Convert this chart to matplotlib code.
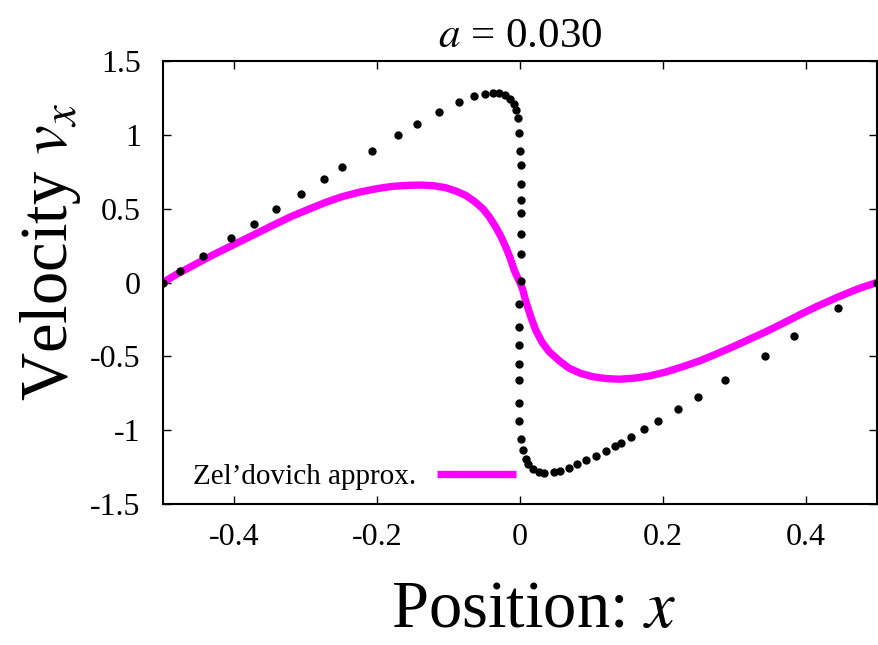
import matplotlib
matplotlib.use("Agg")
import matplotlib.pyplot as plt

# particle positions / velocities (exact solution, dots)
dots_x = [-0.500, -0.476, -0.444, -0.405, -0.373, -0.341, -0.307, -0.275, -0.249, -0.207,
          -0.171, -0.144, -0.114, -0.085, -0.064, -0.049, -0.038, -0.029, -0.021, -0.014,
          -0.009, -0.006, -0.003, -0.001, 0.000, 0.001, 0.001, 0.001, 0.001, 0.001,
          0.001, 0.001, -0.001, -0.001, -0.001, -0.001, -0.001, -0.001, -0.001, 0.001,
          0.004, 0.008, 0.011, 0.018, 0.026, 0.034, 0.047, 0.056, 0.069, 0.080,
          0.093, 0.107, 0.121, 0.133, 0.141, 0.155, 0.174, 0.193, 0.221, 0.249,
          0.287, 0.343, 0.384, 0.446, 0.500]
dots_v = [0.000, 0.081, 0.178, 0.299, 0.396, 0.495, 0.597, 0.700, 0.779, 0.892,
          1.000, 1.074, 1.153, 1.220, 1.261, 1.277, 1.284, 1.281, 1.268, 1.243,
          1.211, 1.166, 1.115, 1.011, 0.889, 0.793, 0.664, 0.561, 0.473, 0.331,
          0.193, 0.007, -0.147, -0.304, -0.424, -0.550, -0.658, -0.816, -0.939, -1.057,
          -1.133, -1.196, -1.228, -1.264, -1.284, -1.291, -1.286, -1.277, -1.255, -1.232,
          -1.205, -1.174, -1.140, -1.106, -1.084, -1.043, -0.989, -0.935, -0.856, -0.777,
          -0.660, -0.496, -0.363, -0.176, 0.000]

# Zel'dovich approximation curve
zel_x = [-0.500, -0.480, -0.459, -0.436, -0.412, -0.388, -0.365, -0.342, -0.319, -0.295,
         -0.272, -0.250, -0.225, -0.200, -0.179, -0.157, -0.137, -0.120, -0.104, -0.090,
         -0.076, -0.064, -0.052, -0.043, -0.034, -0.027, -0.020, -0.014, -0.008, -0.004,
         0.000, 0.004, 0.008, 0.015, 0.022, 0.031, 0.041, 0.055, 0.069, 0.085,
         0.102, 0.120, 0.139, 0.160, 0.181, 0.205, 0.228, 0.252, 0.275, 0.298,
         0.321, 0.345, 0.368, 0.392, 0.415, 0.446, 0.475, 0.500]
zel_v = [0.000, 0.058, 0.112, 0.172, 0.230, 0.287, 0.342, 0.397, 0.450, 0.498,
         0.543, 0.580, 0.612, 0.636, 0.651, 0.658, 0.660, 0.655, 0.642, 0.620,
         0.590, 0.550, 0.500, 0.445, 0.376, 0.315, 0.241, 0.170, 0.083, 0.040,
         0.000, -0.050, -0.125, -0.230, -0.322, -0.405, -0.469, -0.530, -0.581, -0.615,
         -0.638, -0.650, -0.655, -0.648, -0.633, -0.605, -0.570, -0.530, -0.484, -0.436,
         -0.385, -0.332, -0.277, -0.218, -0.164, -0.097, -0.040, 0.000]

xticks = [-0.4, -0.2, 0, 0.2, 0.4]
xtick_labels = ["-0.4", "-0.2", "0", "0.2", "0.4"]
yticks = [-1.5, -1, -0.5, 0, 0.5, 1, 1.5]
ytick_labels = ["-1.5", "-1", "-0.5", "0", "0.5", "1", "1.5"]

plt.rcParams["font.family"] = ["Liberation Serif", "DejaVu Serif"]
plt.rcParams["mathtext.fontset"] = "stix"

fig = plt.figure(figsize=(8.79, 6.45), dpi=100)
ax = fig.add_axes([0.1854, 0.2186, 0.8123, 0.6868])

ax.plot(dots_x, dots_v, "o", color="black", markersize=6, markeredgewidth=0, zorder=3)
ax.plot(zel_x, zel_v, "-", color="#ff00ff", lw=5.3, label="Zel\u2019dovich approx.",
        solid_joinstyle="round", solid_capstyle="butt", zorder=2)

ax.set_xlim(-0.5, 0.5)
ax.set_ylim(-1.5, 1.5)
ax.set_xticks(xticks)
ax.set_xticklabels(xtick_labels)
ax.set_yticks(yticks)
ax.set_yticklabels(ytick_labels)
ax.tick_params(direction="in", length=6, width=1, top=True, right=True,
               labelsize=23, pad=14)
ax.tick_params(axis="y", pad=16)
for s in ax.spines.values():
    s.set_linewidth(1.5)

ax.set_title("$a$ = 0.030", fontsize=31, pad=10)

fig.text(0.607, 0.006, "Position: $x$", fontsize=48, ha="center", va="bottom")
fig.text(0.057, 0.61, "Velocity $v_x$", fontsize=48, ha="center", va="center", rotation=90)

ax.legend(loc="center right", bbox_to_anchor=(0.494, 0.061), frameon=False,
          markerfirst=False, handlelength=2.7, handletextpad=0.7, borderpad=0,
          borderaxespad=0, fontsize=21)

fig.savefig("out.png", dpi=100)
